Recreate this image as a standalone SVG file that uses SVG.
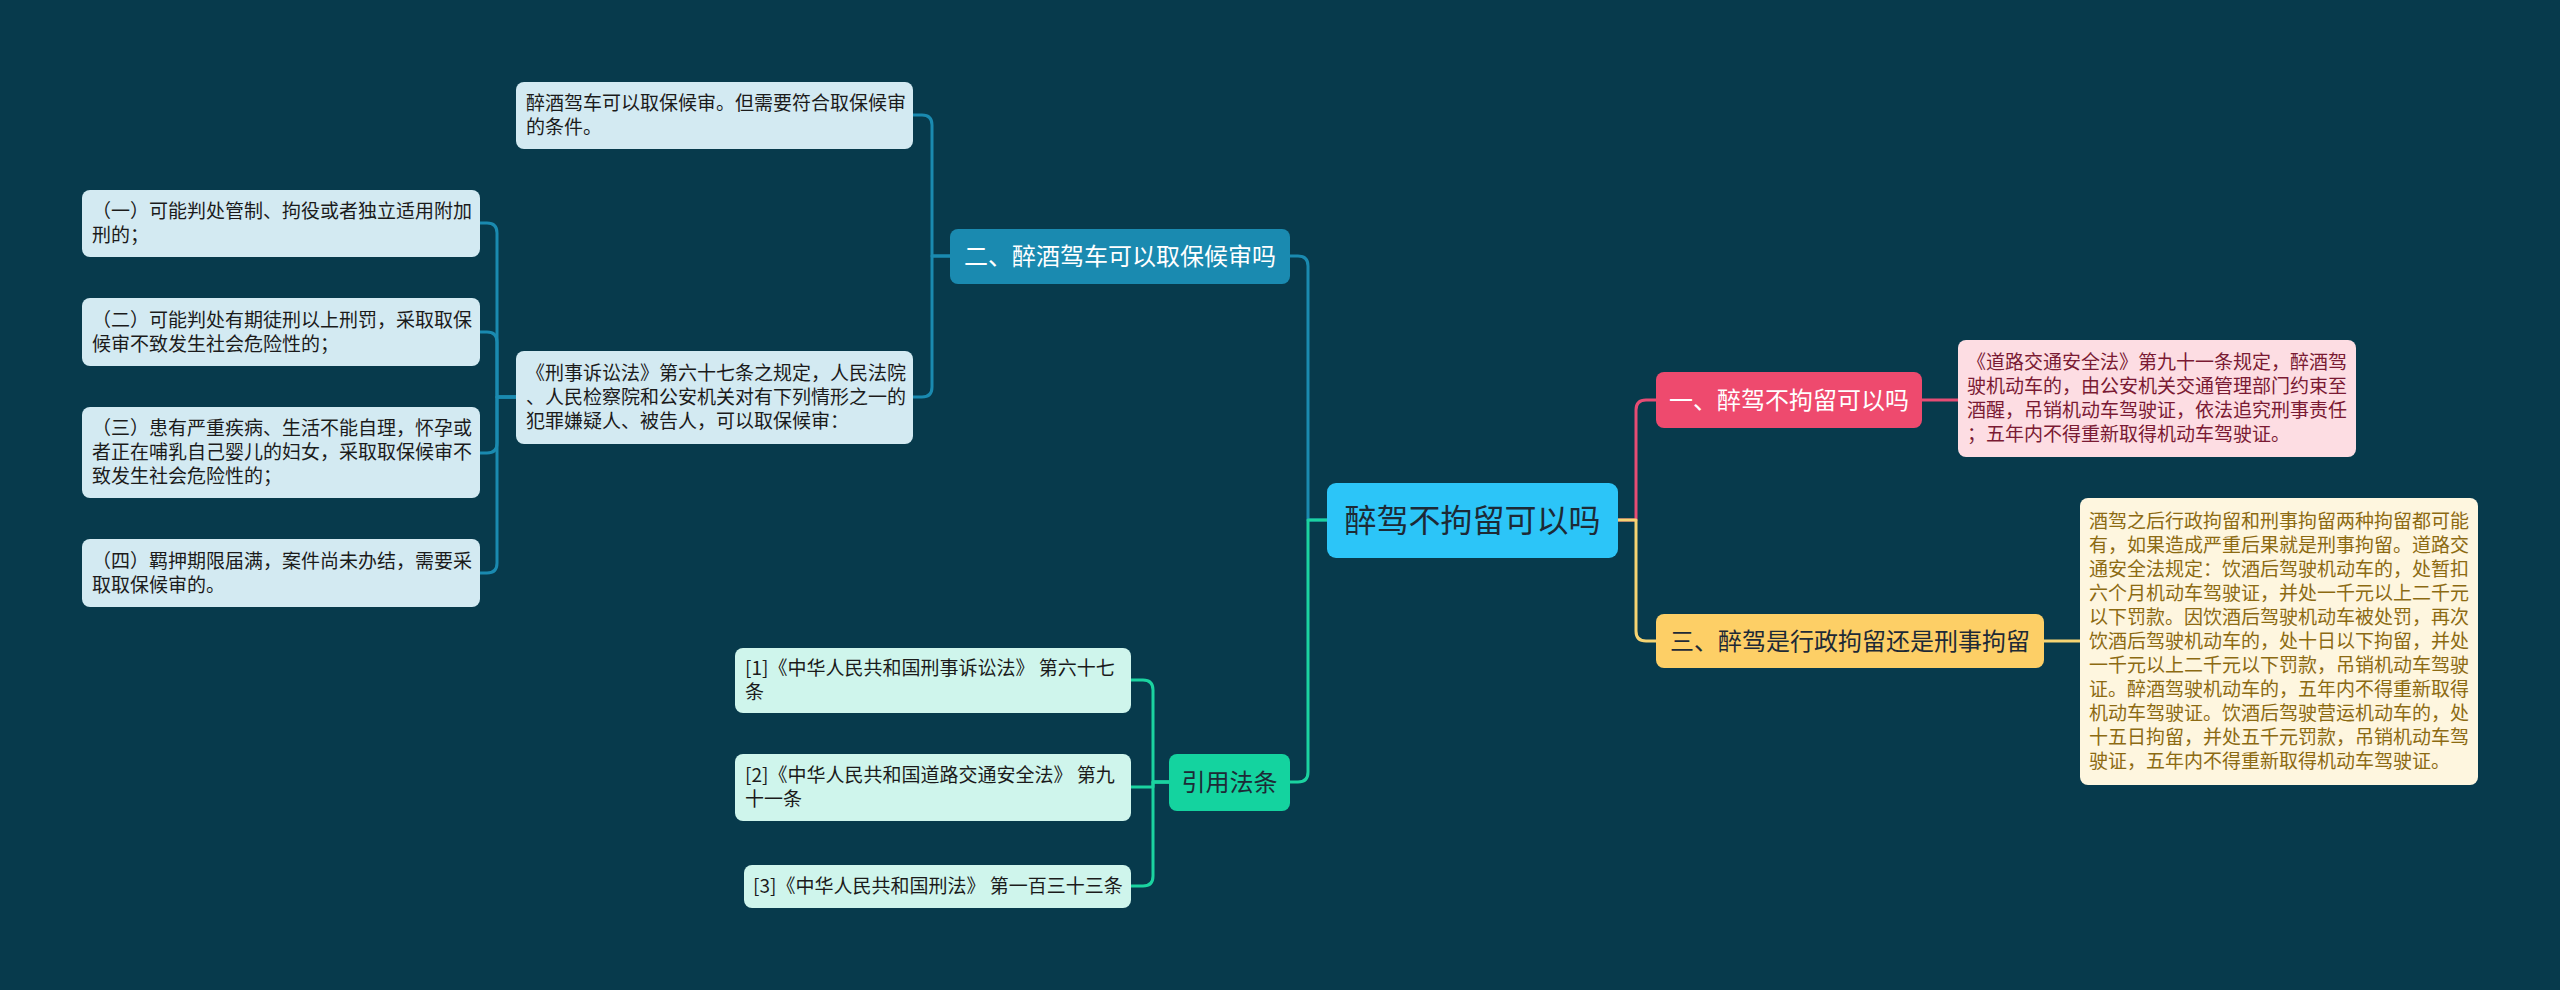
<svg xmlns="http://www.w3.org/2000/svg" width="2560" height="990" viewBox="0 0 2560 990">
<style>
text{font-family:"Noto Sans CJK SC","Noto Sans",sans-serif;}
.leaf{font-size:19px;fill:#1b1b1b;}
.main{font-size:24px;text-anchor:middle;}
.c{fill:none;stroke-width:3;stroke-linejoin:round;stroke-linecap:round;}
.blue{stroke:#1A8AB0;}
.green{stroke:#1BD3A0;}
.pink{stroke:#E64C74;}
.yellow{stroke:#F5D472;}
.lb{fill:#D3EAF2;}
.lg{fill:#CFF5EC;}
</style>
<rect width="2560" height="990" fill="#073A4C"/>
<g id="connectors">
<path class="c blue" d="M1327 520 H1308 V266 Q1308 256 1298 256 H1290"/>
<path class="c green" d="M1327 520 H1308 V772 Q1308 782 1298 782 H1290"/>
<path class="c pink" d="M1618 520 H1636 V410 Q1636 400 1646 400 H1656"/>
<path class="c yellow" d="M1618 520 H1636 V631 Q1636 641 1646 641 H1656"/>
<path class="c pink" d="M1922 400 H1958"/>
<path class="c yellow" d="M2044 641 H2080"/>
<path class="c blue" d="M950 256 H932 V125 Q932 115 922 115 H913"/>
<path class="c blue" d="M950 256 H932 V387 Q932 397 922 397 H913"/>
<path class="c blue" d="M516 397 H497 V233 Q497 223 487 223 H480"/>
<path class="c blue" d="M516 397 H497 V342 Q497 332 487 332 H480"/>
<path class="c blue" d="M516 397 H497 V443 Q497 453 487 453 H480"/>
<path class="c blue" d="M516 397 H497 V563 Q497 573 487 573 H480"/>
<path class="c green" d="M1169 782 H1153 V690 Q1153 680 1143 680 H1131"/>
<path class="c green" d="M1169 782 H1153 V787 H1131"/>
<path class="c green" d="M1169 782 H1153 V876 Q1153 886 1143 886 H1131"/>
</g>
<g id="root">
<rect x="1327" y="483" width="291" height="75" rx="9" fill="#2CC5F8"/>
<text x="1472.5" y="532" font-size="32" text-anchor="middle" fill="#1d2a36">醉驾不拘留可以吗</text>
</g>
<g id="b2">
<rect x="950" y="229" width="340" height="55" rx="8" fill="#1A8AB0"/>
<text class="main" x="1120" y="265" fill="#ffffff">二、醉酒驾车可以取保候审吗</text>
</g>
<g id="b1">
<rect x="1656" y="372" width="266" height="56" rx="8" fill="#EE4A6E"/>
<text class="main" x="1789" y="408.5" fill="#ffffff">一、醉驾不拘留可以吗</text>
</g>
<g id="b3">
<rect x="1656" y="614" width="388" height="54" rx="8" fill="#FDCF66"/>
<text class="main" x="1850" y="649.5" fill="#1d2a36">三、醉驾是行政拘留还是刑事拘留</text>
</g>
<g id="b4">
<rect x="1169" y="754" width="121" height="57" rx="8" fill="#14D39F"/>
<text class="main" x="1229.5" y="791" fill="#1d2a36">引用法条</text>
</g>
<g id="leaf-pink">
<rect x="1958" y="340" width="398" height="117" rx="8" fill="#FDDDE3"/>
<text class="leaf" fill="#7A1A33" style="fill:#7A1A33">
<tspan x="1967" y="369">《道路交通安全法》第九十一条规定，醉酒驾</tspan>
<tspan x="1967" y="393">驶机动车的，由公安机关交通管理部门约束至</tspan>
<tspan x="1967" y="417">酒醒，吊销机动车驾驶证，依法追究刑事责任</tspan>
<tspan x="1967" y="441">；五年内不得重新取得机动车驾驶证。</tspan>
</text>
</g>
<g id="leaf-yellow">
<rect x="2080" y="498" width="398" height="287" rx="8" fill="#FEF6DF"/>
<text class="leaf" style="fill:#8C6A12">
<tspan x="2089" y="528">酒驾之后行政拘留和刑事拘留两种拘留都可能</tspan>
<tspan x="2089" y="552">有，如果造成严重后果就是刑事拘留。道路交</tspan>
<tspan x="2089" y="576">通安全法规定：饮酒后驾驶机动车的，处暂扣</tspan>
<tspan x="2089" y="600">六个月机动车驾驶证，并处一千元以上二千元</tspan>
<tspan x="2089" y="624">以下罚款。因饮酒后驾驶机动车被处罚，再次</tspan>
<tspan x="2089" y="648">饮酒后驾驶机动车的，处十日以下拘留，并处</tspan>
<tspan x="2089" y="672">一千元以上二千元以下罚款，吊销机动车驾驶</tspan>
<tspan x="2089" y="696">证。醉酒驾驶机动车的，五年内不得重新取得</tspan>
<tspan x="2089" y="720">机动车驾驶证。饮酒后驾驶营运机动车的，处</tspan>
<tspan x="2089" y="744">十五日拘留，并处五千元罚款，吊销机动车驾</tspan>
<tspan x="2089" y="768">驶证，五年内不得重新取得机动车驾驶证。</tspan>
</text>
</g>
<g id="leaf-b2-1">
<rect class="lb" x="516" y="82" width="397" height="67" rx="8"/>
<text class="leaf"><tspan x="526" y="110">醉酒驾车可以取保候审。但需要符合取保候审</tspan><tspan x="526" y="134">的条件。</tspan></text>
</g>
<g id="leaf-b2-2">
<rect class="lb" x="516" y="351" width="397" height="93" rx="8"/>
<text class="leaf"><tspan x="526" y="380">《刑事诉讼法》第六十七条之规定，人民法院</tspan><tspan x="526" y="404">、人民检察院和公安机关对有下列情形之一的</tspan><tspan x="526" y="428">犯罪嫌疑人、被告人，可以取保候审：</tspan></text>
</g>
<g id="leaf-c1">
<rect class="lb" x="82" y="190" width="398" height="67" rx="8"/>
<text class="leaf"><tspan x="92" y="218">（一）可能判处管制、拘役或者独立适用附加</tspan><tspan x="92" y="242">刑的；</tspan></text>
</g>
<g id="leaf-c2">
<rect class="lb" x="82" y="298" width="398" height="68" rx="8"/>
<text class="leaf"><tspan x="92" y="326.5">（二）可能判处有期徒刑以上刑罚，采取取保</tspan><tspan x="92" y="350.5">候审不致发生社会危险性的；</tspan></text>
</g>
<g id="leaf-c3">
<rect class="lb" x="82" y="407" width="398" height="91" rx="8"/>
<text class="leaf"><tspan x="92" y="435">（三）患有严重疾病、生活不能自理，怀孕或</tspan><tspan x="92" y="459">者正在哺乳自己婴儿的妇女，采取取保候审不</tspan><tspan x="92" y="483">致发生社会危险性的；</tspan></text>
</g>
<g id="leaf-c4">
<rect class="lb" x="82" y="539" width="398" height="68" rx="8"/>
<text class="leaf"><tspan x="92" y="567.5">（四）羁押期限届满，案件尚未办结，需要采</tspan><tspan x="92" y="591.5">取取保候审的。</tspan></text>
</g>
<g id="ref-1">
<rect class="lg" x="735" y="648" width="396" height="65" rx="8"/>
<text class="leaf"><tspan x="745" y="675">[1]《中华人民共和国刑事诉讼法》 第六十七</tspan><tspan x="745" y="699">条</tspan></text>
</g>
<g id="ref-2">
<rect class="lg" x="735" y="754" width="396" height="67" rx="8"/>
<text class="leaf"><tspan x="745" y="782">[2]《中华人民共和国道路交通安全法》 第九</tspan><tspan x="745" y="806">十一条</tspan></text>
</g>
<g id="ref-3">
<rect class="lg" x="744" y="865" width="387" height="43" rx="8"/>
<text class="leaf"><tspan x="753" y="893">[3]《中华人民共和国刑法》 第一百三十三条</tspan></text>
</g>
</svg>
